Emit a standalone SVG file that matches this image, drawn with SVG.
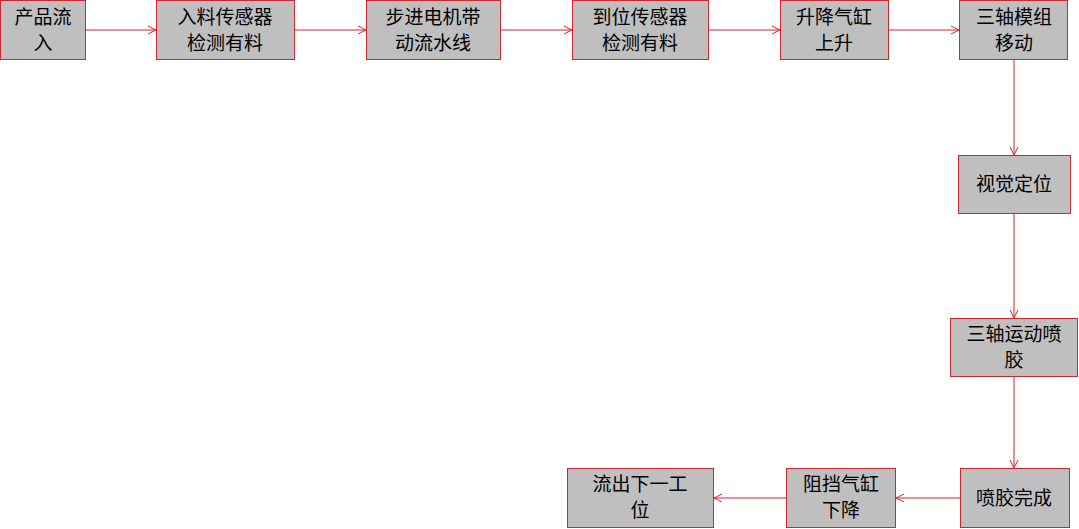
<svg xmlns="http://www.w3.org/2000/svg" width="1079" height="529" viewBox="0 0 1079 529">
<style>
.n rect{fill:#bfbfbf;stroke:#d9232a;stroke-width:1}
.n text{font-family:"Noto Sans CJK SC","Liberation Sans",sans-serif;font-size:19px;fill:#000;text-anchor:middle}
.c path{stroke:#d9232a;stroke-width:1;fill:none;marker-end:url(#a)}
</style>
<defs><marker id="a" markerWidth="10" markerHeight="10" refX="9" refY="5" orient="auto" markerUnits="userSpaceOnUse"><path d="M1,1 L9,5 L1,9" fill="none" stroke="#d9232a" stroke-width="1"/></marker></defs>
<rect width="1079" height="529" fill="#fff"/>
<g class="c">
<path d="M86,30H156"/><path d="M295,30H366"/><path d="M501,30H572"/><path d="M709,30H780"/><path d="M889,30H959"/>
<path d="M1014,60V155"/><path d="M1014,214V318"/><path d="M1014,377V468"/>
<path d="M960,498H896"/><path d="M786,498H714"/>
</g>
<g class="n" id="n1"><rect x="0.5" y="0.5" width="85" height="59"/><text x="43" y="24">产品流</text><text x="43" y="50">入</text></g>
<g class="n" id="n2"><rect x="156.5" y="0.5" width="138" height="59"/><text x="225" y="24">入料传感器</text><text x="225" y="50">检测有料</text></g>
<g class="n" id="n3"><rect x="366.5" y="0.5" width="134" height="59"/><text x="433" y="24">步进电机带</text><text x="433" y="50">动流水线</text></g>
<g class="n" id="n4"><rect x="572.5" y="0.5" width="136" height="59"/><text x="640" y="24">到位传感器</text><text x="640" y="50">检测有料</text></g>
<g class="n" id="n5"><rect x="780.5" y="0.5" width="108" height="59"/><text x="834" y="24">升降气缸</text><text x="834" y="50">上升</text></g>
<g class="n" id="n6"><rect x="959.5" y="0.5" width="108" height="59"/><text x="1014" y="24">三轴模组</text><text x="1014" y="50">移动</text></g>
<g class="n" id="n7"><rect x="958.5" y="155.5" width="112" height="58"/><text x="1014" y="191">视觉定位</text></g>
<g class="n" id="n8"><rect x="950.5" y="318.5" width="127" height="58"/><text x="1014" y="341">三轴运动喷</text><text x="1014" y="367">胶</text></g>
<g class="n" id="n9"><rect x="960.5" y="468.5" width="109" height="59"/><text x="1014" y="505">喷胶完成</text></g>
<g class="n" id="n10"><rect x="786.5" y="468.5" width="109" height="59"/><text x="841" y="491">阻挡气缸</text><text x="841" y="517">下降</text></g>
<g class="n" id="n11"><rect x="567.5" y="468.5" width="146" height="59"/><text x="640" y="491">流出下一工</text><text x="640" y="517">位</text></g>
</svg>
